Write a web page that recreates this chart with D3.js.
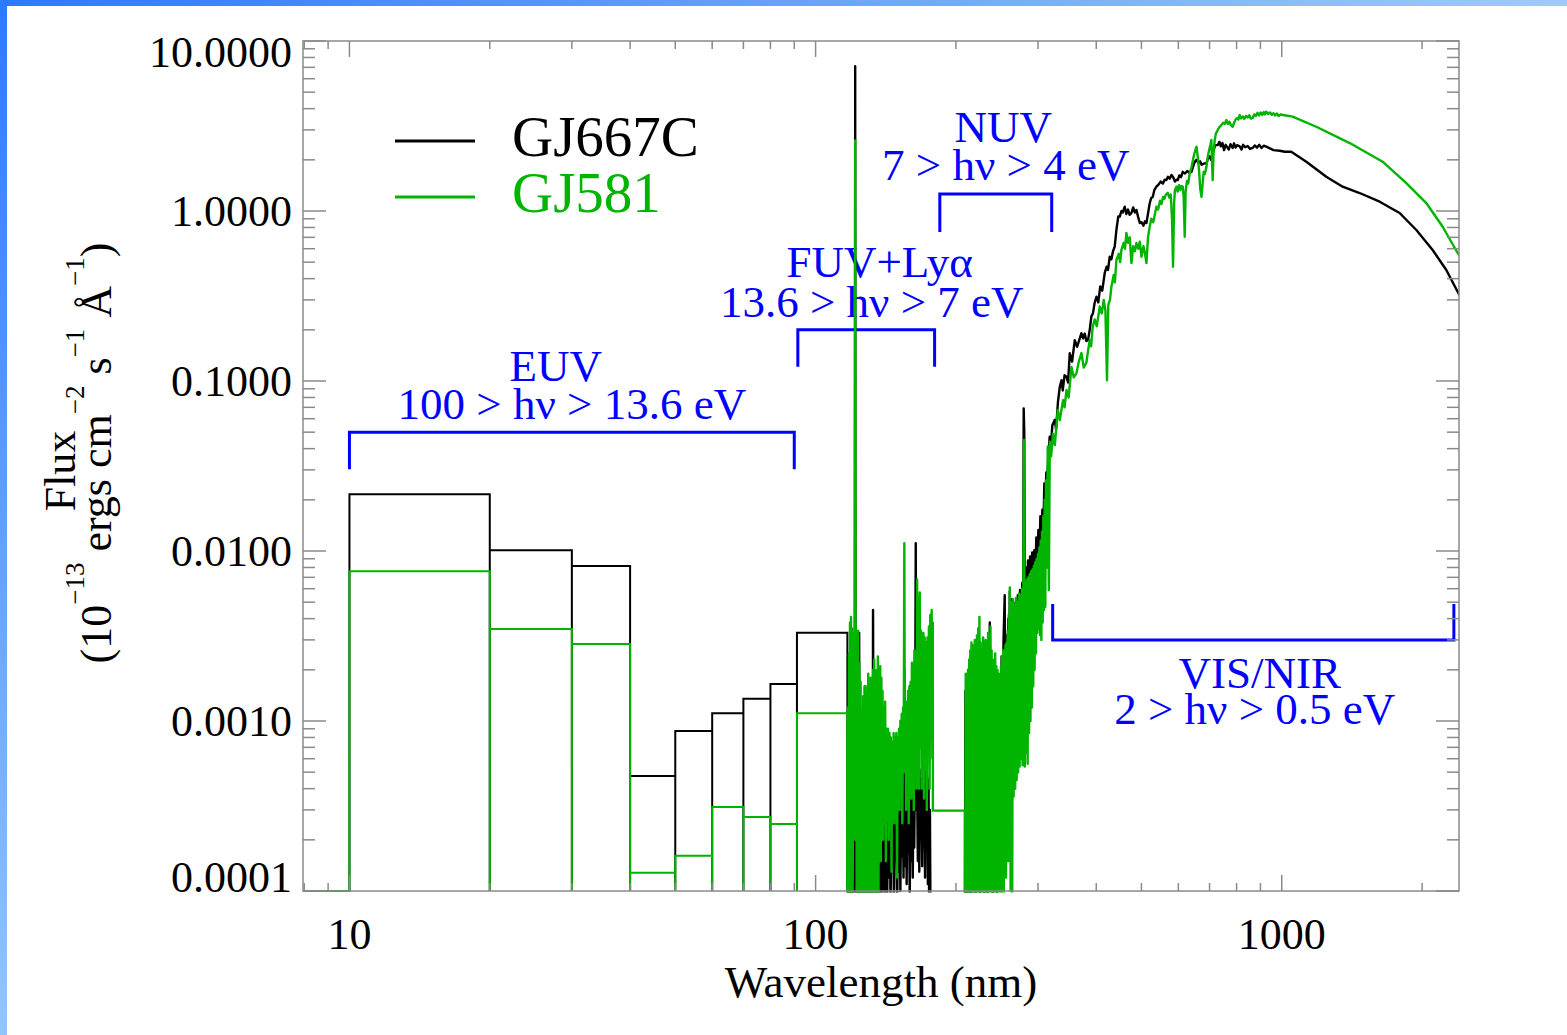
<!DOCTYPE html>
<html>
<head>
<meta charset="utf-8">
<script src="https://cdn.jsdelivr.net/npm/d3@7"></script>
<style>
  html, body { margin: 0; padding: 0; background: #fff; }
  svg { display: block; }
  text { font-family: "Liberation Serif", "Times New Roman", serif; white-space: pre; }
</style>
</head>
<body>
<svg id="chart" width="1567" height="1035"></svg>
<script>
// ---------------------------------------------------------------------------
// Data: stellar spectra of two M dwarfs (flux in 1e-13 erg cm^-2 s^-1 A^-1)
// ---------------------------------------------------------------------------
const seriesNames = ["GJ667C", "GJ581"];

// EUV is given as broad bins (nm)
const euvBinEdges = [5, 10, 20, 30, 40, 50, 60, 70, 80, 91.2, 117];
const euvGJ667C = [0, 0.0216, 0.0101, 0.00816, 0.000475, 0.000873, 0.00111, 0.00135, 0.00165, 0.0033];
const euvGJ581  = [0, 0.0076, 0.00348, 0.00284, 0.000128, 0.000161, 0.000312, 0.000272, 0.000248, 0.00111];

// FUV -> NIR spectrum of GJ667C: [wavelength nm, flux]
const specGJ667C = [
  [117.0,6e-5],[117.5,1.5e-4],[118.0,4e-5],[118.5,1.2e-4],[119.0,5e-5],[119.5,1.8e-4],[120.0,4e-5],[120.5,1.1e-4],
  [121.0,5e-5],[121.4,2e-4],[121.6,7.1],[121.8,3e-4],[122.3,6e-5],[122.8,1.3e-4],[123.3,4e-5],[124.0,3.3e-3],
  [124.4,5e-5],[124.9,1.4e-4],[125.4,4e-5],[126.0,1.2e-4],[126.6,5e-5],[127.2,1.6e-4],[127.8,4e-5],[128.4,1.1e-4],
  [129.0,6e-5],[129.6,1.5e-4],[130.2,4e-5],[130.8,2.2e-4],[131.4,5e-5],[132.0,1.3e-4],[132.5,6e-5],[132.8,4.5e-3],
  [133.3,1.2e-4],[133.9,5e-5],[134.5,1.6e-4],[135.1,6e-5],[135.7,1.9e-4],[136.3,5e-5],[136.9,2.3e-4],[137.5,8e-5],
  [138.1,2.6e-4],[138.7,6e-5],[139.4,9e-4],[140.0,1.0e-4],[140.6,2.4e-4],[141.2,6e-5],[141.8,2.8e-4],[142.4,9e-5],
  [143.0,2.5e-4],[143.6,1.2e-4],[144.2,3.0e-4],[144.8,8e-5],[145.4,2.7e-4],[146.0,1.4e-4],[146.6,3.2e-4],[147.2,9e-5],
  [147.8,2.9e-4],[148.4,1.5e-4],[149.0,3.4e-4],[149.6,7e-5],[150.2,3.0e-4],[150.8,1.3e-4],[151.4,3.6e-4],[152.0,1.0e-4],
  [152.6,3.3e-4],[153.2,1.6e-4],[153.8,3.8e-4],[154.4,1.2e-4],[155.0,2.0e-3],[155.6,1.4e-4],[156.2,3.7e-4],[156.8,1.1e-4],
  [157.4,4.0e-4],[158.0,1.7e-4],[158.6,3.5e-4],[159.2,9e-5],[159.8,4.2e-4],[160.4,1.5e-4],[161.0,3.9e-4],[161.6,1.2e-4],
  [162.2,4.5e-4],[162.8,1.8e-4],[163.4,6.0e-4],[164.0,1.11e-2],[164.5,3.0e-4],[165.1,4.2e-4],[165.7,1.5e-4],[166.3,5.0e-4],
  [166.9,1.3e-4],[167.5,4.6e-4],[168.1,2.0e-4],[168.7,5.2e-4],[169.3,1.4e-4],[169.9,4.4e-4],[170.5,1.8e-4],[171.1,5.5e-4],
  [171.7,1.2e-4],[172.3,5.0e-4],[172.9,2.0e-4],[173.5,4.8e-4],[174.1,1.1e-4],[174.7,4.5e-4],[175.3,6e-5],[175.9,3.0e-4],
  [176.5,5e-5],[178.4,5e-5],[209.0,5e-5],
  [209.6,1.5e-3],[210.8,6e-5],[212.0,1.8e-3],[213.2,8e-5],[214.4,2.2e-3],[215.6,5e-5],[216.8,2.0e-3],[218.0,1.0e-4],
  [219.2,2.5e-3],[220.4,5e-5],[221.6,2.8e-3],[222.8,1.2e-4],[224.0,2.3e-3],[225.2,6e-5],[226.4,2.6e-3],[227.6,1.5e-4],
  [228.8,2.4e-3],[230.0,5e-5],[231.2,2.2e-3],[232.0,1.2e-4],[232.8,2.4e-3],[234.0,7e-5],[235.2,2.2e-3],[235.8,5e-4],
  [236.4,3.8e-3],[237.4,1.8e-4],[238.6,1.9e-3],[239.8,6e-5],[241.0,2.1e-3],[242.2,2.5e-4],[243.4,2.0e-3],[244.6,8e-5],
  [245.8,1.8e-3],[247.0,3e-4],[248.2,1.7e-3],[249.4,1.0e-4],[250.6,2.4e-3],[251.8,4e-4],[253.0,3.0e-3],[254.5,5.5e-3],
  [255.5,2.0e-4],[256.7,3.2e-3],[257.9,6e-4],[259.1,4.0e-3],[260.0,3e-4],[260.9,5.8e-3],
  [262.0,2.5e-3],[263.0,5.2e-3],[264.0,1.8e-3],[265.5,4.6e-3],[267.0,2.0e-3],[268.5,5.0e-3],[270.0,2.4e-3],[271.5,5.5e-3],
  [273.0,2.6e-3],[274.5,5.9e-3],[276.0,3.0e-3],[277.5,6.5e-3],[278.8,4.0e-3],[279.5,6.9e-2],[280.3,5.0e-2],[281.0,5.0e-3],
  [282.5,8.0e-3],[284.0,4.2e-3],[285.5,8.8e-3],[287.0,5.0e-3],[288.5,9.3e-3],[290.0,5.5e-3],[291.5,9.8e-3],[293.0,6.2e-3],
  [294.5,1.01e-2],[296.0,7.0e-3],[297.5,1.2e-2],[299.0,7.5e-3],[300.5,1.33e-2],[302.0,9.0e-3],[303.5,1.6e-2],[305.0,1.05e-2],
  [306.5,1.75e-2],[308.0,1.3e-2],[309.5,2.5e-2],[311.0,1.8e-2],[312.5,2.9e-2],[314.0,2.6e-2],[316.0,3.8e-2],[317.8,4.7e-2],
  [320.0,4.3e-2],[322.0,5.5e-2],[325.8,5.9e-2],[328.0,5.2e-2],[331.0,7.5e-2],[334.0,9.2e-2],[336.9,0.101],[339.0,0.088],
  [342.0,0.108],[345.3,0.106],[348.0,0.098],[350.9,0.1455],[355.0,0.13],[359.7,0.174],[364.0,0.159],[368.0,0.175],
  [371.7,0.191],[375.0,0.178],[377.8,0.19],[381.0,0.172],[384.0,0.174],[387.3,0.2],[390.5,0.24],[393.5,0.25],
  [397.0,0.29],[400.4,0.313],[404.0,0.29],[408.0,0.36],[412.0,0.34],[417.1,0.432],[421.0,0.47],[424.0,0.45],
  [427.5,0.538],[431.0,0.52],[434.5,0.58],[438.2,0.617],[442.0,0.78],[446.0,0.93],[449.2,0.926],[453.0,1.0],
  [456.0,0.98],[460.4,1.06],[464.0,0.96],[468.0,1.02],[471.5,0.95],[475.9,0.973],[480.0,1.05],[484.0,0.98],
  [487.8,1.014],[492.0,0.92],[496.0,0.85],[500.0,0.86],[505.0,0.82],[509.0,0.87],[512.5,0.85],[517.0,0.98],
  [520.5,1.1],[524.5,1.19],[528.7,1.21],[533.0,1.33],[538.4,1.39],[544.0,1.43],[550.0,1.49],[556.0,1.45],
  [561.0,1.53],[565.6,1.52],[570.0,1.59],[575.0,1.55],[579.9,1.63],[585.0,1.58],[590.0,1.49],[594.0,1.53],
  [598.2,1.52],[603.0,1.62],[608.0,1.58],[613.2,1.7],[620.0,1.66],[627.0,1.72],[634.0,1.68],[640.1,1.7],
  [646.0,1.84],[651.0,1.95],[656.2,2.0],[662.0,1.92],[668.0,1.96],[673.0,1.87],[680.0,1.9],[689.4,1.91],
  [695.0,2.05],[700.0,2.1],[705.0,2.0],[710.9,2.19],[715.0,2.3],[720.0,2.44],[728.7,2.44],[735.0,2.55],
  [740.0,2.4],[746.0,2.51],[752.0,2.28],[758.0,2.45],[764.0,2.37],[770.0,2.3],[776.0,2.47],[784.7,2.35],
  [790.0,2.5],[796.0,2.36],[802.0,2.44],[812.3,2.4],[820.0,2.3],[826.0,2.45],[835.0,2.37],[845.0,2.41],
  [855.0,2.32],[866.1,2.35],[875.0,2.43],[885.0,2.36],[895.0,2.45],[905.0,2.35],[915.0,2.42],[926.7,2.39],
  [945.0,2.33],[960.0,2.28],[990.0,2.26],[1015.0,2.23],[1048.0,2.23],[1129.0,1.95],[1246.0,1.59],[1351.0,1.39],
  [1469.0,1.276],[1622.0,1.134],[1790.0,0.973],[1944.0,0.773],[2107.0,0.59],[2254.0,0.45],[2384.0,0.335],[2420.0,0.31]
];

// FUV -> NIR spectrum of GJ581: [wavelength nm, flux]
const specGJ581 = [
  [117.0,8e-5],[117.3,1.2e-3],[117.6,5e-5],[117.9,2.5e-3],[118.2,3e-4],[118.5,3.8e-3],[118.8,6e-5],[119.1,4.1e-3],
  [119.4,8e-4],[119.7,3.5e-3],[120.0,5e-5],[120.3,2.9e-3],[120.6,2e-4],[120.9,3.3e-3],[121.2,6e-4],[121.6,2.6],
  [121.9,2e-4],[122.2,3.4e-3],[122.5,7e-5],[122.8,3.0e-3],[123.1,3e-4],[123.4,3.4e-3],[123.7,5e-5],[124.1,2.2e-3],
  [124.5,1.5e-4],[124.9,1.7e-3],[125.3,6e-5],[125.7,1.0e-3],[126.1,2e-4],[126.5,1.4e-3],[126.9,5e-5],[127.3,1.6e-3],
  [127.7,3e-4],[128.1,1.6e-3],[128.5,6e-5],[128.9,1.2e-3],[129.3,1.5e-4],[129.7,1.9e-3],[130.1,5e-5],[130.5,1.4e-3],
  [130.9,2.5e-4],[131.3,1.8e-3],[131.7,7e-5],[132.1,1.5e-3],[132.5,3e-4],[132.9,2.0e-3],[133.3,6e-5],[133.6,2.3e-3],
  [134.0,2e-4],[134.4,1.6e-3],[134.8,5e-5],[135.2,2.0e-3],[135.6,4e-4],[136.0,2.4e-3],[136.4,8e-5],[136.8,1.9e-3],
  [137.2,3.5e-4],[137.6,2.1e-3],[138.0,1.5e-4],[138.4,1.8e-3],[138.8,4e-4],[139.2,1.5e-3],[139.6,2e-4],[140.0,1.2e-3],
  [140.5,4.5e-4],[141.0,1.3e-3],[141.5,1.5e-4],[142.0,9e-4],[142.5,4e-4],[143.0,9e-4],[143.5,2e-4],[144.0,8.5e-4],
  [144.5,4.5e-4],[145.0,8e-4],[145.5,1.3e-4],[146.0,7.5e-4],[146.5,4e-4],[147.0,8.5e-4],[147.5,2.5e-4],[148.0,8e-4],
  [148.5,5e-4],[149.0,8.5e-4],[149.5,1.2e-4],[150.0,8e-4],[150.5,4e-4],[151.0,9e-4],[151.5,3e-4],[152.0,1.0e-3],
  [152.5,5.5e-4],[153.0,1.1e-3],[153.5,2.5e-4],[154.0,1.2e-3],[154.5,5e-4],[155.0,1.11e-2],[155.4,6e-4],[155.9,1.3e-3],
  [156.4,3e-4],[156.9,1.3e-3],[157.4,6e-4],[157.9,1.5e-3],[158.4,2.5e-4],[158.9,1.6e-3],[159.4,5.5e-4],[159.9,1.7e-3],
  [160.4,3.5e-4],[160.9,2.2e-3],[161.4,7e-4],[161.9,2.0e-3],[162.4,3e-4],[162.9,2.6e-3],[163.4,6e-4],[164.0,2.5e-3],
  [164.5,4e-4],[165.1,6.8e-3],[165.6,8e-4],[166.1,3.2e-3],[166.5,4e-4],[166.8,4.3e-3],[167.3,5.7e-3],[167.8,7e-4],
  [168.3,3.4e-3],[168.8,4e-4],[169.3,3.0e-3],[169.8,9e-4],[170.3,3.3e-3],[170.8,3.5e-4],[171.4,3.1e-3],[172.0,8e-4],
  [172.6,2.9e-3],[173.2,3e-4],[173.8,3.1e-3],[174.4,7e-4],[175.0,3.6e-3],[175.6,4e-4],[176.2,4.2e-3],[176.8,9e-4],
  [177.4,4.5e-3],[178.0,6e-4],[178.4,3.8e-3],[178.5,2.97e-4],[209.0,2.97e-4],
  [209.3,5e-5],[209.9,1.9e-3],[210.5,6e-5],[211.1,1.6e-3],[211.7,3e-4],[212.3,2.0e-3],[212.9,5e-5],[213.5,2.3e-3],
  [214.1,1.5e-4],[214.7,2.6e-3],[215.3,4e-5],[215.9,2.9e-3],[216.5,4e-4],[217.1,2.4e-3],[217.7,6e-5],[218.3,2.8e-3],
  [218.9,2e-4],[219.5,3.0e-3],[220.1,5e-5],[220.7,2.7e-3],[221.3,3e-4],[221.9,3.2e-3],[222.5,5e-5],[223.2,3.5e-3],
  [223.9,1.5e-4],[224.6,4.1e-3],[225.3,6e-5],[226.0,2.9e-3],[226.7,5e-4],[227.4,2.6e-3],[228.1,5e-5],[228.8,3.1e-3],
  [229.5,2e-4],[230.2,2.8e-3],[230.9,6e-5],[231.6,3.0e-3],[232.3,3e-4],[233.0,2.7e-3],[233.7,5e-5],[234.4,3.3e-3],
  [235.1,1.5e-4],[235.8,3.0e-3],[236.5,6e-5],[237.2,3.6e-3],[237.9,4e-4],[238.6,2.6e-3],[239.3,5e-5],[240.0,2.3e-3],
  [240.7,2.5e-4],[241.4,2.2e-3],[242.1,6e-5],[242.8,2.5e-3],[243.5,3e-4],[244.2,2.1e-3],[244.9,5e-5],[245.6,2.0e-3],
  [246.3,2e-4],[247.0,1.9e-3],[247.7,7e-5],[248.4,1.8e-3],[249.1,4e-4],[249.8,2.1e-3],[250.5,6e-5],[251.2,2.4e-3],
  [251.9,3e-4],[252.6,2.6e-3],[253.3,8e-5],[254.0,2.5e-3],[254.7,5e-4],[255.4,2.8e-3],[256.1,1.2e-4],[256.8,2.9e-3],
  [257.5,4e-4],[258.2,3.4e-3],[258.9,1.5e-4],[259.6,4.2e-3],[260.3,3e-4],[261.0,6.1e-3],
  [262.0,1e-4],[263.0,5.0e-3],[264.0,6e-5],[265.0,5.2e-3],[266.0,3.6e-4],[267.0,4.8e-3],[268.0,4.0e-4],[269.0,5.3e-3],
  [270.0,4.5e-4],[271.0,5.0e-3],[272.0,5.0e-4],[273.0,5.6e-3],[274.0,5.4e-4],[275.0,5.5e-3],[276.0,6.0e-4],[277.0,6.0e-3],
  [278.0,5.5e-4],[279.0,6.2e-3],[280.0,4.5e-2],[281.0,5.4e-4],[282.0,6.5e-3],[283.0,6.5e-4],[284.0,6.8e-3],[285.0,5.6e-4],
  [286.0,7.0e-3],[287.0,8.5e-4],[288.0,7.3e-3],[289.0,1.0e-3],[290.0,7.6e-3],[291.0,1.2e-3],[292.0,7.8e-3],[293.0,1.6e-3],
  [294.0,8.2e-3],[295.0,2.0e-3],[296.0,8.6e-3],[297.0,2.5e-3],[298.0,9.0e-3],[299.0,3.3e-3],[300.0,9.6e-3],[301.0,3.5e-3],
  [302.0,1.05e-2],[303.0,3.2e-3],[304.0,1.15e-2],[305.0,3.0e-3],[306.0,1.3e-2],[307.0,3.8e-3],[308.0,1.6e-2],[309.0,4.5e-3],
  [310.0,2.0e-2],[311.0,4.7e-3],[312.0,2.6e-2],[313.0,8e-3],[314.8,4.11e-2],[316.5,5.9e-3],[318.0,4.4e-2],[320.0,3.6e-2],
  [323.1,4.9e-2],[326.0,4.2e-2],[330.7,6.75e-2],[334.0,5.9e-2],[339.5,7.7e-2],[342.0,7.0e-2],[345.3,8.85e-2],[349.0,8.0e-2],
  [353.9,0.121],[358.0,0.105],[362.7,0.111],[367.0,0.13],[371.7,0.146],[376.0,0.12],[380.9,0.128],[384.0,0.15],
  [387.3,0.174],[390.0,0.16],[393.0,0.209],[397.0,0.23],[401.0,0.21],[407.0,0.274],[411.0,0.25],[415.0,0.30],
  [418.5,0.26],[421.8,0.101],[424.5,0.28],[428.0,0.30],[431.1,0.359],[436.0,0.42],[438.5,0.38],[441.9,0.515],
  [447.0,0.56],[450.0,0.5],[453.0,0.59],[458.0,0.65],[461.0,0.6],[464.2,0.743],[468.0,0.65],[472.0,0.7],
  [475.9,0.494],[480.0,0.62],[484.0,0.58],[487.8,0.648],[492.0,0.6],[496.0,0.66],[500.0,0.538],[505.0,0.62],
  [509.0,0.56],[512.5,0.494],[516.5,0.7],[520.8,0.808],[525.0,0.9],[530.0,0.86],[538.4,1.06],[543.0,1.02],
  [548.0,1.15],[552.0,1.1],[556.3,1.21],[560.0,1.18],[564.0,1.25],[569.4,1.28],[574.0,1.2],[578.0,1.25],
  [581.5,0.9],[584.5,0.47],[587.5,1.1],[590.0,1.33],[594.4,1.39],[598.0,1.3],[602.0,1.42],[606.0,1.33],
  [609.5,1.4],[613.2,1.39],[616.0,1.2],[619.2,0.706],[622.0,1.3],[626.0,1.5],[630.0,1.45],[634.6,1.67],
  [640.0,1.8],[645.0,2.0],[650.0,2.2],[656.2,2.39],[661.0,2.05],[665.0,1.7],[668.5,1.35],[672.6,1.21],
  [676.5,1.45],[680.0,1.7],[684.0,1.65],[689.4,1.82],[694.0,2.1],[699.0,2.3],[703.0,2.45],[706.3,2.62],
  [708.5,2.0],[710.9,1.52],[714.0,2.2],[718.0,2.6],[722.0,2.85],[727.0,2.95],[731.0,3.05],[736.1,3.13],
  [742.0,3.2],[748.0,3.3],[754.0,3.25],[760.7,3.43],[766.0,3.25],[772.0,3.35],[778.0,3.2],[784.7,3.13],
  [790.0,3.3],[796.0,3.45],[802.0,3.52],[807.0,3.45],[812.3,3.67],[818.0,3.5],[825.0,3.6],[831.0,3.48],
  [838.0,3.62],[845.0,3.55],[852.0,3.66],[858.0,3.5],[866.1,3.53],[873.0,3.7],[880.0,3.62],[887.0,3.78],
  [894.0,3.65],[901.0,3.8],[908.0,3.68],[915.0,3.82],[920.0,3.7],[926.7,3.84],[935.0,3.72],[944.0,3.8],
  [952.0,3.68],[960.0,3.76],[968.0,3.65],[976.0,3.75],[985.0,3.62],[995.0,3.7],[1006.0,3.67],[1055.0,3.59],
  [1186.0,3.13],[1399.0,2.51],[1646.0,1.95],[1850.0,1.46],[2042.0,1.114],[2214.0,0.808],[2384.0,0.566],[2420.0,0.54]
];

// Energy bands marked on the chart (wavelength span in nm, bracket flux level)
const bandNames  = ["EUV", "FUV+Lyα", "NUV", "VIS/NIR"];
const bandRanges = ["100 > hν > 13.6 eV", "13.6 > hν > 7 eV", "7 > hν > 4 eV", "2 > hν > 0.5 eV"];
const bandSpans  = [[10, 90], [91.6, 180], [184.7, 321], [322.5, 2340]];
const bandLevels = [0.05, 0.2, 1.26, 0.003];

// Axis ticks
const xTickValues = [10, 100, 1000];
const yTickValues = [1e-4, 1e-3, 1e-2, 1e-1, 1, 10];

// ---------------------------------------------------------------------------
// Layout and scales
// ---------------------------------------------------------------------------
const W = 1567, H = 1035;
const plot = { left: 303, right: 1459, top: 41, bottom: 891 };
const yMin = 1e-4;

const x = d3.scaleLog().domain([7.95, 2400]).range([plot.left, plot.right]);
const y = d3.scaleLog().domain([yMin, 10]).range([plot.bottom, plot.top]);

const colors = { GJ667C: "#000000", GJ581: "#00b400" };
const axisColor = "#8a8a8a";
const blue = "#0000ff";

const svg = d3.select("#chart");
const defs = svg.append("defs");

// Page background with the blue edge bands
const gTop = defs.append("linearGradient").attr("id", "edgeTop")
  .attr("x1", 0).attr("x2", 1).attr("y1", 0).attr("y2", 0);
gTop.append("stop").attr("offset", 0).attr("stop-color", "#2a7bff");
gTop.append("stop").attr("offset", 1).attr("stop-color", "#a3c9f5");
const gLeft = defs.append("linearGradient").attr("id", "edgeLeft")
  .attr("x1", 0).attr("x2", 0).attr("y1", 0).attr("y2", 1);
gLeft.append("stop").attr("offset", 0).attr("stop-color", "#2a7bff");
gLeft.append("stop").attr("offset", 1).attr("stop-color", "#92c5ff");

svg.append("rect").attr("width", W).attr("height", H).attr("fill", "#fff");
svg.append("rect").attr("x", 0).attr("y", 0).attr("width", W).attr("height", 6).attr("fill", "url(#edgeTop)");
svg.append("rect").attr("x", 0).attr("y", 0).attr("width", 7).attr("height", H).attr("fill", "url(#edgeLeft)");

defs.append("clipPath").attr("id", "plotClip")
  .append("rect")
  .attr("x", plot.left).attr("y", plot.top)
  .attr("width", plot.right - plot.left)
  .attr("height", plot.bottom - plot.top + 1.5);

// ---------------------------------------------------------------------------
// Band annotations (drawn beneath the spectra)
// ---------------------------------------------------------------------------
const annot = svg.append("g").attr("class", "bands");
const legLen = [37, 37, 38, -36];          // bracket leg length (down positive)
const textDx = [[-16, 0], [13.5, 5.5], [7.5, 10], [6.5, 1.5]];
const textDy = [[-51, -13], [-53, -13], [-52, -14], [48, 84]];

bandNames.forEach((name, i) => {
  const x0 = x(bandSpans[i][0]), x1 = x(bandSpans[i][1]);
  const yb = y(bandLevels[i]);
  annot.append("path")
    .attr("d", `M${x0},${yb + legLen[i]}L${x0},${yb}L${x1},${yb}L${x1},${yb + legLen[i]}`)
    .attr("fill", "none").attr("stroke", blue).attr("stroke-width", 3);
  const cx = (x0 + x1) / 2;
  // two-line label: band name above its photon-energy range
  const t = annot.append("text").attr("text-anchor", "middle").attr("font-size", 45).attr("fill", blue);
  t.append("tspan").attr("x", cx + textDx[i][0]).attr("y", yb + textDy[i][0]).text(name);
  t.append("tspan").attr("x", cx + textDx[i][1]).attr("y", yb + textDy[i][1]).text(bandRanges[i]);
});

// ---------------------------------------------------------------------------
// Spectra
// ---------------------------------------------------------------------------
const line = d3.line().x(d => x(d[0])).y(d => y(d[1]));

// each EUV bin drawn as an outline rising from the floor of the plot
function binOutline(edges, values) {
  const pts = [];
  values.forEach((v, i) => {
    const f = Math.max(v, yMin);
    pts.push([edges[i], yMin], [edges[i], f], [edges[i + 1], f], [edges[i + 1], yMin]);
  });
  return pts;
}

const marks = svg.append("g").attr("clip-path", "url(#plotClip)");
const series = [
  { name: "GJ667C", euv: euvGJ667C, spec: specGJ667C },
  { name: "GJ581",  euv: euvGJ581,  spec: specGJ581 }
];
series.forEach(s => {
  marks.append("path").datum(binOutline(euvBinEdges, s.euv))
    .attr("d", line).attr("fill", "none")
    .attr("stroke", colors[s.name]).attr("stroke-width", 2).attr("stroke-linejoin", "miter");
  marks.append("path").datum(s.spec)
    .attr("d", line).attr("fill", "none")
    .attr("stroke", colors[s.name]).attr("stroke-width", 2.4).attr("stroke-linejoin", "round");
});

// ---------------------------------------------------------------------------
// Axes: box with inward ticks on all four sides
// ---------------------------------------------------------------------------
const axes = svg.append("g").attr("stroke", axisColor).attr("stroke-width", 1.5).attr("fill", "none");
axes.append("rect")
  .attr("x", plot.left).attr("y", plot.top)
  .attr("width", plot.right - plot.left).attr("height", plot.bottom - plot.top);

const isDecade = v => Math.abs(Math.log10(v) - Math.round(Math.log10(v))) < 1e-9;

x.ticks().forEach(t => {
  const px = x(t), len = isDecade(t) ? 16 : 8;
  axes.append("line").attr("x1", px).attr("x2", px).attr("y1", plot.bottom).attr("y2", plot.bottom - len);
  axes.append("line").attr("x1", px).attr("x2", px).attr("y1", plot.top).attr("y2", plot.top + len);
});
y.ticks().forEach(t => {
  const py = y(t), len = isDecade(t) ? 23 : 12;
  axes.append("line").attr("y1", py).attr("y2", py).attr("x1", plot.left).attr("x2", plot.left + len);
  axes.append("line").attr("y1", py).attr("y2", py).attr("x1", plot.right).attr("x2", plot.right - len);
});

const labels = svg.append("g").attr("fill", "#000").attr("font-size", 44);
const fmtY = d3.format(".4f");
yTickValues.forEach(t => {
  const base = Math.min(Math.max(y(t) + 15, plot.top + 26), plot.bottom + 1);
  labels.append("text").attr("x", 292).attr("y", base).attr("text-anchor", "end").text(fmtY(t));
});
xTickValues.forEach(t => {
  labels.append("text").attr("x", x(t)).attr("y", 949).attr("text-anchor", "middle").text(d3.format("d")(t));
});

// Axis titles
labels.append("text").attr("x", (plot.left + plot.right) / 2).attr("y", 997)
  .attr("text-anchor", "middle").attr("font-size", 45).text("Wavelength (nm)");

// two-line y title: quantity, then units with superscript exponents
const yTitle = labels.append("text").attr("transform", "translate(0,0) rotate(-90)")
  .attr("text-anchor", "middle");
yTitle.append("tspan").attr("x", -471).attr("y", 75).text("Flux");
const unitParts = [["(10", false], ["−13", true], [" ergs cm", false], ["−2", true],
                   [" s", false], ["−1", true], [" Å", false], ["−1", true], [")", false]];
let raised = false;
unitParts.forEach(([txt, sup], k) => {
  const ts = yTitle.append("tspan").text(txt);
  if (k === 0) ts.attr("x", -453).attr("y", 111);
  if (sup && !raised) { ts.attr("dy", -27); raised = true; }
  else if (!sup && raised) { ts.attr("dy", 27); raised = false; }
  if (sup) ts.attr("font-size", 27);
});

// ---------------------------------------------------------------------------
// Legend
// ---------------------------------------------------------------------------
const legend = svg.append("g");
seriesNames.forEach((name, i) => {
  const ly = 141 + i * 56;
  legend.append("line").attr("x1", 395).attr("x2", 475).attr("y1", ly).attr("y2", ly)
    .attr("stroke", colors[name]).attr("stroke-width", 3);
  legend.append("text").attr("x", 512).attr("y", ly + 14.5).attr("font-size", 57)
    .attr("fill", colors[name]).text(name);
});
</script>
</body>
</html>
